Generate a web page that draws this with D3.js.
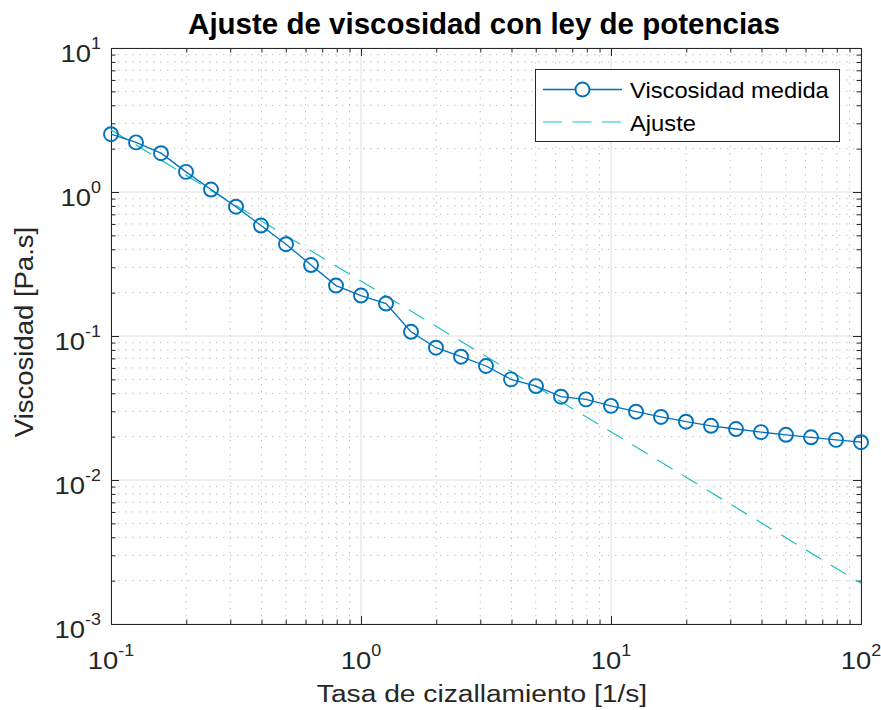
<!DOCTYPE html>
<html>
<head>
<meta charset="utf-8">
<script src="https://cdn.jsdelivr.net/npm/d3@7"></script>
<style>
    body { margin: 0; background: #fff; }
    text { font-family: "Liberation Sans", Arial, Helvetica, sans-serif; fill: #262626; }
</style>
</head>
<body>
<div id="chart"></div>
<script>

// tasa de cizallamiento [1/s] y viscosidad medida [Pa.s]
const shearRate = [0.1, 0.1259, 0.1585, 0.1995, 0.2512, 0.3162, 0.3981, 0.5012, 0.6310, 0.7943,
    1, 1.259, 1.585, 1.995, 2.512, 3.162, 3.981, 5.012, 6.310, 7.943,
    10, 12.59, 15.85, 19.95, 25.12, 31.62, 39.81, 50.12, 63.10, 79.43, 100];
const viscosity = [2.52, 2.21, 1.86, 1.38, 1.04, 0.790, 0.585, 0.434, 0.311, 0.224,
    0.191, 0.168, 0.107, 0.0829, 0.0718, 0.0619, 0.0500, 0.0449, 0.0379, 0.0363,
    0.0327, 0.0298, 0.0274, 0.0254, 0.0238, 0.0226, 0.0215, 0.0206, 0.0198, 0.0190, 0.0183];

// ajuste (ley de potencias)
const fitRate = [0.1, 1, 10, 100];
const fitViscosity = [2.70, 0.241, 0.0216, 0.00192];

const xTickExps = [-1, 0, 1, 2];
const yTickExps = [-3, -2, -1, 0, 1];
const legendLabels = ["Viscosidad medida", "Ajuste"];
const chartTitle = "Ajuste de viscosidad con ley de potencias";
const xLabel = "Tasa de cizallamiento [1/s]";
const yLabel = "Viscosidad [Pa.s]";


class ViscosityVis {

    constructor(_parentElement) {
        this.parentElement = _parentElement;
        this.data = shearRate.map((r, i) => ({ rate: r, visc: viscosity[i] }));
        this.fitData = fitRate.map((r, i) => ({ rate: r, visc: fitViscosity[i] }));

        this.initVis();
    }

    initVis() {
        let vis = this;

        vis.margin = { top: 48, right: 20, bottom: 86, left: 111 };
        vis.width = 881 - vis.margin.left - vis.margin.right;
        vis.height = 710 - vis.margin.top - vis.margin.bottom;

        vis.svg = d3.select("#" + vis.parentElement).append("svg")
            .attr("width", 881)
            .attr("height", 710)
            .append("g")
            .attr("transform", "translate(" + vis.margin.left + "," + vis.margin.top + ")");

        // Scales
        vis.x = d3.scaleLog().domain([0.1, 100]).range([0, vis.width]);
        vis.y = d3.scaleLog().domain([0.001, 10]).range([vis.height, 0]);

        let isMajor = v => Math.abs(Math.log10(v) - Math.round(Math.log10(v))) < 1e-9;
        vis.xMinor = vis.x.ticks().filter(v => !isMajor(v));
        vis.yMinor = vis.y.ticks().filter(v => !isMajor(v));
        vis.xMajor = xTickExps.map(e => Math.pow(10, e));
        vis.yMajor = yTickExps.map(e => Math.pow(10, e));

        // Grid (minor dotted, major solid)
        let grid = vis.svg.append("g").attr("class", "grid");
        grid.selectAll(".gx-minor").data(vis.xMinor).enter().append("line")
            .attr("x1", d => vis.x(d)).attr("x2", d => vis.x(d))
            .attr("y1", 0).attr("y2", vis.height)
            .attr("stroke", "#c4c4c4").attr("stroke-dasharray", "1.5,5.5");
        grid.selectAll(".gy-minor").data(vis.yMinor).enter().append("line")
            .attr("y1", d => vis.y(d)).attr("y2", d => vis.y(d))
            .attr("x1", 0).attr("x2", vis.width)
            .attr("stroke", "#c4c4c4").attr("stroke-dasharray", "1.5,5.5");
        grid.selectAll(".gx-major").data(vis.xMajor).enter().append("line")
            .attr("x1", d => vis.x(d)).attr("x2", d => vis.x(d))
            .attr("y1", 0).attr("y2", vis.height)
            .attr("stroke", "#dedede");
        grid.selectAll(".gy-major").data(vis.yMajor).enter().append("line")
            .attr("y1", d => vis.y(d)).attr("y2", d => vis.y(d))
            .attr("x1", 0).attr("x2", vis.width)
            .attr("stroke", "#dedede");

        // Axes, ticks pointing inward on all four sides
        let makeAxis = (axisFn, scale, values, size, tr) => {
            vis.svg.append("g")
                .attr("class", "axis")
                .attr("transform", tr)
                .attr("color", "#262626")
                .call(axisFn(scale).tickValues(values).tickSizeInner(-size).tickSizeOuter(0).tickFormat(""));
        };
        let bottomTr = "translate(0," + vis.height + ")";
        let rightTr = "translate(" + vis.width + ",0)";
        makeAxis(d3.axisBottom, vis.x, vis.xMinor, 4.5, bottomTr);
        makeAxis(d3.axisBottom, vis.x, vis.xMajor, 8, bottomTr);
        makeAxis(d3.axisTop, vis.x, vis.xMinor, 4.5, "translate(0,0)");
        makeAxis(d3.axisTop, vis.x, vis.xMajor, 8, "translate(0,0)");
        makeAxis(d3.axisLeft, vis.y, vis.yMinor, 4.5, "translate(0,0)");
        makeAxis(d3.axisLeft, vis.y, vis.yMajor, 8, "translate(0,0)");
        makeAxis(d3.axisRight, vis.y, vis.yMinor, 4.5, rightTr);
        makeAxis(d3.axisRight, vis.y, vis.yMajor, 8, rightTr);

        // Tick labels as 10^n
        let powLabel = (sel, e) => {
            sel.append("tspan").text("10");
            sel.append("tspan").attr("dy", -13).attr("font-size", 16).text(e);
        };
        vis.svg.selectAll(".xlab").data(xTickExps).enter().append("text")
            .attr("class", "xlab")
            .attr("text-anchor", "middle")
            .attr("font-size", 24.5)
            .attr("transform", d => "translate(" + vis.x(Math.pow(10, d)) + "," + (vis.height + 45) + ") scale(1.12,1)")
            .each(function (d) { powLabel(d3.select(this), d); });
        vis.svg.selectAll(".ylab").data(yTickExps).enter().append("text")
            .attr("class", "ylab")
            .attr("text-anchor", "end")
            .attr("font-size", 24.5)
            .attr("transform", d => "translate(-10," + (vis.y(Math.pow(10, d)) + 14) + ") scale(1.12,1)")
            .each(function (d) { powLabel(d3.select(this), d); });

        // Title and axis labels
        vis.svg.append("text")
            .attr("x", 484 - vis.margin.left)
            .attr("y", 34 - vis.margin.top)
            .attr("text-anchor", "middle")
            .attr("font-size", 29.5)
            .attr("font-weight", "bold")
            .style("fill", "#000")
            .text(chartTitle);

        vis.svg.append("text")
            .attr("text-anchor", "middle")
            .attr("font-size", 24.5)
            .attr("transform", "translate(" + (482 - vis.margin.left) + "," + (702 - vis.margin.top) + ") scale(1.15,1)")
            .text(xLabel);

        vis.svg.append("text")
            .attr("text-anchor", "middle")
            .attr("font-size", 25)
            .attr("transform", "translate(" + (32.5 - vis.margin.left) + "," + (332 - vis.margin.top) + ") rotate(-90) scale(1.1,1)")
            .text(yLabel);

        vis.updateVis();
    }

    updateVis() {
        let vis = this;

        let line = d3.line()
            .x(d => vis.x(d.rate))
            .y(d => vis.y(d.visc));

        // Ajuste
        vis.svg.append("path")
            .datum(vis.fitData)
            .attr("class", "fit-line")
            .attr("d", line)
            .attr("fill", "none")
            .attr("stroke", "#1fbfbf")
            .attr("stroke-width", 1.2)
            .attr("stroke-dasharray", "18,11");

        // Viscosidad medida
        vis.svg.append("path")
            .datum(vis.data)
            .attr("class", "data-line")
            .attr("d", line)
            .attr("fill", "none")
            .attr("stroke", "#0072bd")
            .attr("stroke-width", 1.3);

        vis.svg.selectAll(".circles")
            .data(vis.data)
            .enter()
            .append("circle")
            .attr("class", "circles")
            .attr("cx", d => vis.x(d.rate))
            .attr("cy", d => vis.y(d.visc))
            .attr("r", 7)
            .attr("fill", "none")
            .attr("stroke", "#0072bd")
            .attr("stroke-width", 1.9);

        // Legend
        let lg = vis.svg.append("g")
            .attr("class", "legend")
            .attr("transform", "translate(" + (535 - vis.margin.left) + "," + (69 - vis.margin.top) + ")");
        lg.append("rect")
            .attr("x", 0.5).attr("y", 0.5)
            .attr("width", 304).attr("height", 72)
            .attr("fill", "#fff")
            .attr("stroke", "#262626");
        lg.append("line")
            .attr("x1", 8).attr("x2", 87).attr("y1", 20.5).attr("y2", 20.5)
            .attr("stroke", "#0072bd").attr("stroke-width", 1.3);
        lg.append("circle")
            .attr("cx", 47.5).attr("cy", 20.5).attr("r", 7)
            .attr("fill", "#fff").attr("stroke", "#0072bd").attr("stroke-width", 1.9);
        lg.append("line")
            .attr("x1", 8).attr("x2", 87).attr("y1", 53).attr("y2", 53)
            .attr("stroke", "#1fbfbf").attr("stroke-width", 1.2)
            .attr("stroke-dasharray", "19,10.5");
        lg.selectAll(".lg-text").data(legendLabels).enter().append("text")
            .attr("class", "lg-text")
            .attr("font-size", 22)
            .style("fill", "#000")
            .attr("transform", (d, i) => "translate(95," + (29 + i * 33) + ") scale(1.08,1)")
            .text(d => d);
    }
}

new ViscosityVis("chart");
</script>
</body>
</html>
